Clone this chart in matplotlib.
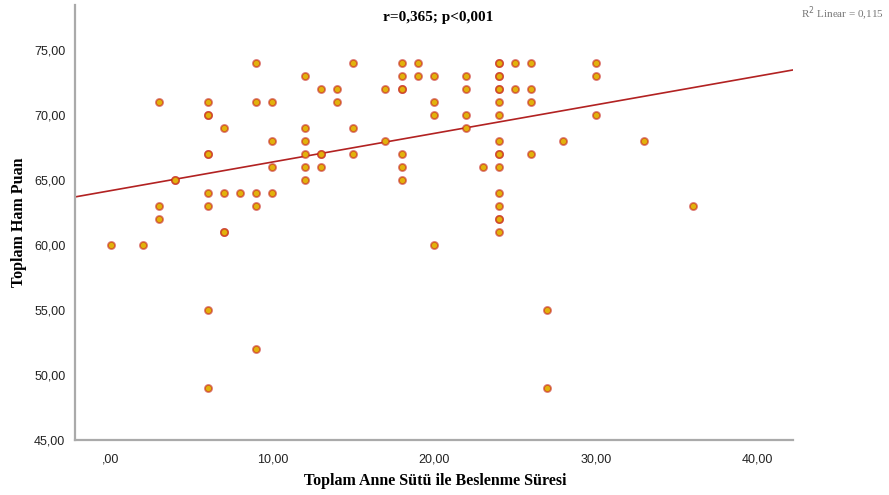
import numpy as np
import matplotlib.pyplot as plt

# Breastfeeding duration (x) and total raw score (y)
x_vals = [0, 2,
          3, 3, 3,
          4,
          6, 6, 6, 6, 6, 6, 6,
          7, 7, 7,
          8,
          9, 9, 9, 9, 9,
          10, 10, 10, 10,
          12, 12, 12, 12, 12, 12,
          13, 13, 13,
          14, 14,
          15, 15, 15,
          17, 17,
          18, 18, 18, 18, 18, 18,
          19, 19,
          20, 20, 20, 20,
          22, 22, 22, 22,
          23,
          24, 24, 24, 24, 24, 24, 24, 24, 24, 24, 24, 24,
          25, 25,
          26, 26, 26, 26,
          27, 27,
          28,
          30, 30, 30,
          33,
          36]
y_vals = [60, 60,
          71, 63, 62,
          65,
          71, 70, 67, 64, 63, 55, 49,
          69, 64, 61,
          64,
          74, 71, 64, 63, 52,
          71, 68, 66, 64,
          73, 69, 68, 67, 66, 65,
          72, 67, 66,
          72, 71,
          74, 69, 67,
          72, 68,
          74, 73, 72, 67, 66, 65,
          74, 73,
          73, 71, 70, 60,
          73, 72, 70, 69,
          66,
          74, 73, 72, 71, 70, 68, 67, 66, 64, 63, 62, 61,
          74, 72,
          74, 72, 71, 67,
          55, 49,
          68,
          74, 73, 70,
          68,
          63]

# points that look darker (overlapping cases)
dup_x = [4, 6, 6, 24, 24, 24, 24, 24, 13, 18, 7]
dup_y = [65, 70, 67, 73, 74, 72, 67, 62, 67, 72, 61]

# fit line as shown (R2 Linear = 0,115)
fit_intercept = 64.18
fit_slope = 0.22

x_ticks = [0, 10, 20, 30, 40]
x_tick_labels = [',00', '10,00', '20,00', '30,00', '40,00']
y_ticks = [45, 50, 55, 60, 65, 70, 75]
y_tick_labels = ['45,00', '50,00', '55,00', '60,00', '65,00', '70,00', '75,00']

fig = plt.figure(figsize=(8.89, 4.95), dpi=100)
ax = fig.add_axes([75 / 889, 55 / 495, 718 / 889, 435 / 495])

xlim = (-2.2, 42.2)
ax.set_xlim(xlim)
ax.set_ylim(45, 78.46)

# regression line
lx = np.array(xlim)
ax.plot(lx, fit_intercept + fit_slope * lx, color='#B22222', lw=1.2, zorder=2)

face = '#E2B20C'
edge = (0.78, 0.15, 0.12, 0.6)
ax.scatter(x_vals, y_vals, s=26, facecolor=face, edgecolor=edge,
           linewidth=1.3, zorder=3)
ax.scatter(dup_x, dup_y, s=26, facecolor=face, edgecolor=edge,
           linewidth=1.3, zorder=4)

for side in ['top', 'right']:
    ax.spines[side].set_visible(False)
for side in ['left', 'bottom']:
    ax.spines[side].set_color('#AAAAAA')
    ax.spines[side].set_linewidth(1.6)

tick_font = ['Liberation Sans Narrow', 'Liberation Sans', 'DejaVu Sans']
ax.set_xticks(x_ticks)
ax.set_xticklabels(x_tick_labels, fontsize=9, family=tick_font, color='#222222')
ax.set_yticks(y_ticks)
ax.set_yticklabels(y_tick_labels, fontsize=9, family=tick_font, color='#222222')
ax.tick_params(length=0, pad=7)
ax.tick_params(axis='x', pad=10)

fig.text(435 / 889, 1 - 481 / 495, 'Toplam Anne Sütü ile Beslenme Süresi', ha='center', va='center',
         fontsize=11.5, fontweight='bold', family='Liberation Serif')
fig.text(19 / 889, 1 - 222 / 495, 'Toplam Ham Puan', ha='center', va='center', rotation=90,
         fontsize=11.5, fontweight='bold', family='Liberation Serif')

fig.text(438 / 889, 1 - 18 / 495, 'r=0,365; p<0,001', ha='center', va='center',
         fontsize=11, fontweight='bold', family='Liberation Serif')
fig.text(884 / 889, 1 - 14 / 495, 'R$^2$ Linear = 0,115', ha='right', va='center',
         fontsize=8, family='Liberation Serif', color='#777777')

fig.savefig('out.png', dpi=100)
